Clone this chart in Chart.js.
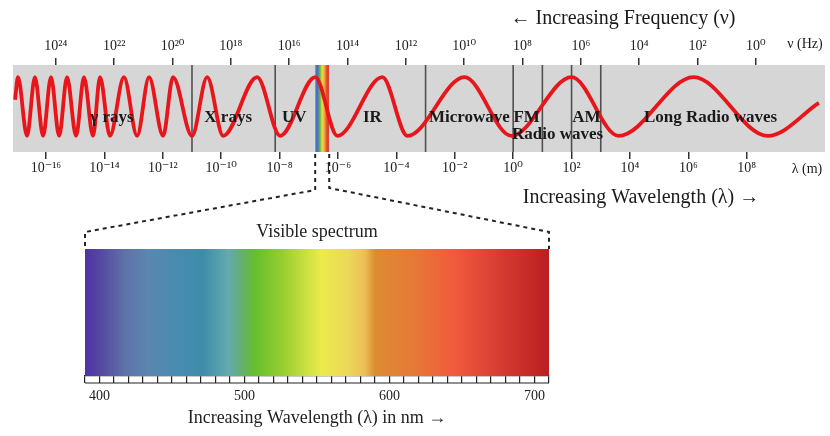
<!DOCTYPE html>
<html>
<head>
<meta charset="utf-8">
<script src="https://cdn.jsdelivr.net/npm/chart.js@4.4.1/dist/chart.umd.min.js"></script>
<style>
  html, body { margin: 0; padding: 0; background: #fff; }
  #wrap { position: relative; width: 830px; height: 436px; }
  #wrap canvas { position: absolute; left: 0; top: 0; }
</style>
</head>
<body>
<div id="wrap">
  <canvas id="bandChart" width="830" height="436"></canvas>
  <canvas id="visChart" width="830" height="436"></canvas>
</div>
<script>
const SERIF = "'Liberation Serif', 'DejaVu Serif', serif";

// top band: x = log10(wavelength, m), top axis = log10(frequency, Hz)
const lambdaTicks = [-16, -14, -12, -10, -8, -6, -4, -2, 0, 2, 4, 6, 8];
const freqTicks = [24, 22, 20, 18, 16, 14, 12, 10, 8, 6, 4, 2, 0];
const lambdaRange = [-17.13, 10.68];
const freqRange = [-2.37, 25.47];

const regionNames = ['γ rays', 'X rays', 'UV', 'IR', 'Microwave', 'FM', 'Radio waves', 'AM', 'Long Radio waves'];
const regionLabelX = [-13.74, -9.76, -7.5, -4.82, -1.5, 0.46, 1.52, 2.51, 6.76];
const regionLabelY = [-0.2, -0.2, -0.2, -0.2, -0.2, -0.2, -0.61, -0.2, -0.2];
const regionBounds = [-11.0, -8.15, -3.0, 0, 1, 2, 3];
const visibleEdges = [-6.78, -6.30];

// wave drawn through its crests and troughs
const waveX = [-17.06, -16.96, -16.65, -16.38, -16.10, -15.83, -15.55, -15.28, -14.97, -14.70,
               -14.39, -14.15, -13.81, -13.33, -12.88, -12.47, -11.99, -11.65, -11.00, -10.48,
               -9.93, -8.77, -7.98, -6.78, -6.02, -4.48, -3.62, -1.67, -0.06, 2.00,
               3.61, 6.18, 8.72, 10.47];
const waveY = [0.2, 0.72, -0.63, 0.72, -0.63, 0.72, -0.63, 0.72, -0.63, 0.72,
               -0.63, 0.72, -0.63, 0.72, -0.63, 0.72, -0.63, 0.72, -0.63, 0.72,
               -0.63, 0.72, -0.63, 0.72, -0.63, 0.72, -0.63, 0.72, -0.63, 0.72,
               -0.63, 0.72, -0.63, 0.13];

// visible spectrum (nm)
const nmRange = [390, 710];
const nmLabels = [400, 500, 600, 700];
const specStopNm = [390, 402, 418, 434, 457, 471, 489, 498, 507, 526, 553, 572, 583, 590, 618, 645, 676, 705, 710];
const specStopColor = ['#5032a5', '#554ba0', '#5f73aa', '#5a87af', '#468cb0', '#3c8caa', '#64aaaf', '#64af6e',
                       '#64be2d', '#96cd32', '#ebeb4b', '#ebd75a', '#ebbe55', '#dc8c32', '#e67837', '#f05a3c',
                       '#d73c32', '#be2323', '#b91e23'];
const stripColors = ['#4a6fc8', '#4a6fc8', '#5db84a', '#e9df45', '#f0a23a', '#dc4436', '#dc4436'];

const SUP = { '0': '⁰', '1': '¹', '2': '²', '3': '³', '4': '⁴', '5': '⁵', '6': '⁶', '7': '⁷', '8': '⁸', '9': '⁹', '-': '⁻' };
const pow10 = v => '10' + String(v).split('').map(c => SUP[c]).join('');

const tickAxis = (range, ticks, pos, pad, h) => ({
    type: 'linear',
    position: pos,
    min: range[0],
    max: range[1],
    reverse: pos === 'top',
    afterBuildTicks: s => { s.ticks = ticks.map(v => ({ value: v })); },
    afterFit: s => { s.height = h; },
    border: { display: false },
    grid: { drawOnChartArea: false, tickLength: 7, color: '#333', lineWidth: 1.5 },
    ticks: {
        autoSkip: false, maxRotation: 0, padding: pad, color: '#222',
        font: { family: SERIF, size: 14 },
        callback: v => pow10(v)
    }
});

const bandDeco = {
    id: 'bandDeco',
    beforeDatasetsDraw(chart) {
        const { ctx, chartArea: a } = chart;
        ctx.save();
        ctx.fillStyle = '#d6d6d6';
        ctx.fillRect(a.left, a.top, a.right - a.left, a.bottom - a.top);
        ctx.restore();
    },
    afterDatasetsDraw(chart) {
        const { ctx, scales: { x, y } } = chart;
        ctx.save();
        ctx.fillStyle = '#1a1a1a';
        ctx.textAlign = 'center';
        ctx.textBaseline = 'middle';
        ctx.font = 'bold 17px ' + SERIF;
        regionNames.forEach((name, i) => {
            ctx.fillText(name, x.getPixelForValue(regionLabelX[i]), y.getPixelForValue(regionLabelY[i]));
        });
        ctx.font = '20px ' + SERIF;
        ctx.fillText('← Increasing Frequency (ν)', 623, 19);
        ctx.fillText('Increasing Wavelength (λ) →', 641, 198);
        ctx.font = '14px ' + SERIF;
        ctx.fillText('ν (Hz)', 805, 44);
        ctx.fillText('λ (m)', 807, 169);
        ctx.restore();
    }
};

const bandChart = new Chart(document.getElementById('bandChart'), {
    type: 'line',
    data: {
        datasets: [
            {
                data: waveX.map((x, i) => ({ x: x, y: waveY[i] })),
                borderColor: '#e8161b',
                borderWidth: 3.8,
                pointRadius: 0,
                cubicInterpolationMode: 'monotone',
                order: 0
            },
            ...regionBounds.map(b => ({
                data: [{ x: b, y: -1 }, { x: b, y: 1 }],
                borderColor: '#505050',
                borderWidth: 1.6,
                pointRadius: 0,
                order: 1
            })),
            {
                data: visibleEdges.map(v => ({ x: v, y: 1 })),
                borderWidth: 0,
                pointRadius: 0,
                fill: { value: -1 },
                backgroundColor: c => {
                    const chart = c.chart;
                    if (!chart.chartArea) return '#888';
                    const xs = chart.scales.x;
                    const g = chart.ctx.createLinearGradient(xs.getPixelForValue(visibleEdges[0]), 0, xs.getPixelForValue(visibleEdges[1]), 0);
                    stripColors.forEach((col, i) => g.addColorStop(i / (stripColors.length - 1), col));
                    return g;
                },
                order: 2
            }
        ]
    },
    options: {
        responsive: false,
        animation: false,
        layout: { padding: { left: 13, right: 5, top: 37, bottom: 254 } },
        plugins: { legend: { display: false }, tooltip: { enabled: false } },
        scales: {
            x: tickAxis(lambdaRange, lambdaTicks, 'bottom', 1, 30),
            x2: tickAxis(freqRange, freqTicks, 'top', 3, 28),
            y: { min: -1, max: 1, display: false }
        }
    },
    plugins: [bandDeco]
});

const visDeco = {
    id: 'visDeco',
    afterDraw(chart) {
        const { ctx, chartArea: a, scales: { x } } = chart;
        const tl = x.options.grid.tickLength;
        ctx.save();
        ctx.strokeStyle = '#222';
        ctx.lineWidth = 1.2;
        ctx.beginPath();
        ctx.moveTo(x.left, a.bottom + tl);
        ctx.lineTo(x.right, a.bottom + tl);
        ctx.stroke();

        ctx.fillStyle = '#222';
        ctx.textAlign = 'center';
        ctx.textBaseline = 'middle';
        ctx.font = '18px ' + SERIF;
        ctx.fillText('Visible spectrum', 317, a.top - 17);

        // dashed zoom lines from the strip in the band down to the spectrum box
        const bx = bandChart.scales.x;
        const bb = bandChart.chartArea.bottom;
        ctx.setLineDash([4, 4]);
        ctx.lineWidth = 2;
        ctx.strokeStyle = '#222';
        [[visibleEdges[0], a.left, 38], [visibleEdges[1], a.right, 36]].forEach(([v, endX, drop]) => {
            const sx = bx.getPixelForValue(v);
            ctx.beginPath();
            ctx.moveTo(sx, bb + 2);
            ctx.lineTo(sx, bb + drop);
            ctx.lineTo(endX, a.top - 17);
            ctx.lineTo(endX, a.top);
            ctx.stroke();
        });
        ctx.restore();
    }
};

new Chart(document.getElementById('visChart'), {
    type: 'bar',
    data: {
        labels: ['visible'],
        datasets: [{
            data: [nmRange],
            barPercentage: 1,
            categoryPercentage: 1,
            borderWidth: 0,
            backgroundColor: c => {
                const chart = c.chart;
                if (!chart.chartArea) return '#888';
                const xs = chart.scales.x;
                const g = chart.ctx.createLinearGradient(xs.getPixelForValue(nmRange[0]), 0, xs.getPixelForValue(nmRange[1]), 0);
                specStopNm.forEach((nm, i) => g.addColorStop((nm - nmRange[0]) / (nmRange[1] - nmRange[0]), specStopColor[i]));
                return g;
            }
        }]
    },
    options: {
        indexAxis: 'y',
        responsive: false,
        animation: false,
        layout: { padding: { left: 85, right: 281, top: 249, bottom: 0 } },
        plugins: { legend: { display: false }, tooltip: { enabled: false } },
        scales: {
            x: {
                type: 'linear',
                min: nmRange[0],
                max: nmRange[1],
                afterFit: s => { s.height = 60; },
                border: { display: true, color: '#222', width: 1.2 },
                grid: { drawOnChartArea: false, tickLength: 7, color: '#222', lineWidth: 1.2 },
                ticks: {
                    stepSize: 10, maxTicksLimit: 40, autoSkip: false, maxRotation: 0, padding: 5,
                    color: '#222', font: { family: SERIF, size: 14 },
                    callback: v => nmLabels.includes(v) ? String(v) : ''
                },
                title: {
                    display: true,
                    text: 'Increasing Wavelength (λ) in nm →',
                    color: '#222',
                    font: { family: SERIF, size: 18 },
                    padding: { top: 0, bottom: 7 }
                }
            },
            y: { display: false }
        }
    },
    plugins: [visDeco]
});
</script>
</body>
</html>
